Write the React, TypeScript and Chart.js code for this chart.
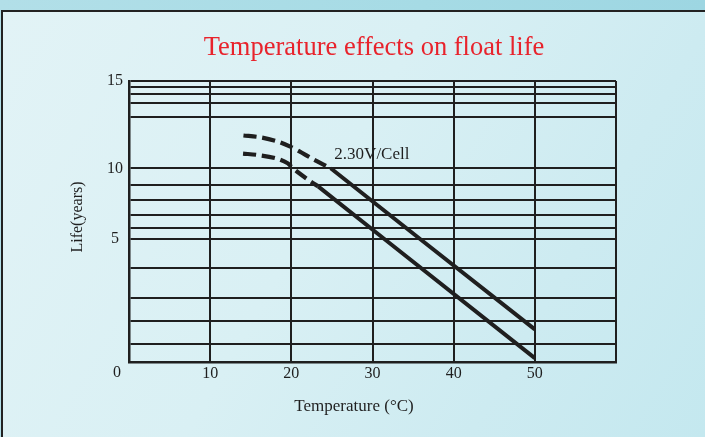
import React, { useEffect, useRef } from 'react';
import { Chart, registerables, LinearScale } from 'chart.js';

Chart.register(...registerables);

// ---- data (temperature °C, life in years) ----
const topDashedTemp = [14.1, 16.1, 18.2, 19.8, 21.0, 22.5, 23.9, 24.85];
const topDashedLife = [11.88, 11.78, 11.55, 11.26, 10.97, 10.57, 10.23, 10.0];
const topSolidTemp = [24.85, 35.9, 50.0];
const topSolidLife = [10.0, 5.0, 1.33];
const bottomDashedTemp = [14.05, 15.9, 18.2, 19.55, 20.05, 20.65, 22.25, 23.3];
const bottomDashedLife = [10.84, 10.76, 10.56, 10.29, 10.06, 9.79, 9.12, 8.73];
const bottomSolidTemp = [23.3, 31.5, 50.0];
const bottomSolidLife = [8.73, 5.0, 0.16];

const xTickValues = [0, 10, 20, 30, 40, 50, 60];
const xTickLabels = ['', '10', '20', '30', '40', '50', ''];
const yGridValues = [0, 0.73, 1.69, 2.61, 3.81, 5, 5.8, 6.69, 7.77, 8.85, 10, 12.94, 13.76, 14.26, 14.66, 15];
const yLabelValues = [5, 10, 15];

const titleText = 'Temperature effects on float life';
const xTitleText = 'Temperature (°C)';
const yTitleText = 'Life(years)';
const originLabel = '0';
const curveLabel = '2.30V/Cell';
const curveLabelTemp = 25.3;
const curveLabelLife = 10.78;

// ---- piecewise (non-uniform) y scale, as printed on the original chart ----
const Y_BREAKS = [0, 5, 10, 15];
const Y_DECIMALS = [0, 0.4367, 0.6893, 1];

function valueToDecimal(v: number): number {
  for (let i = 1; i < Y_BREAKS.length; i++) {
    if (v <= Y_BREAKS[i] || i === Y_BREAKS.length - 1) {
      const t = (v - Y_BREAKS[i - 1]) / (Y_BREAKS[i] - Y_BREAKS[i - 1]);
      return Y_DECIMALS[i - 1] + t * (Y_DECIMALS[i] - Y_DECIMALS[i - 1]);
    }
  }
  return 0;
}
function decimalToValue(d: number): number {
  for (let i = 1; i < Y_DECIMALS.length; i++) {
    if (d <= Y_DECIMALS[i] || i === Y_DECIMALS.length - 1) {
      const t = (d - Y_DECIMALS[i - 1]) / (Y_DECIMALS[i] - Y_DECIMALS[i - 1]);
      return Y_BREAKS[i - 1] + t * (Y_BREAKS[i] - Y_BREAKS[i - 1]);
    }
  }
  return 0;
}

class PiecewiseScale extends LinearScale {
  static id = 'piecewise';
  static defaults = LinearScale.defaults;
  getPixelForValue(value: number) {
    return this.getPixelForDecimal(valueToDecimal(value));
  }
  getValueForPixel(pixel: number) {
    return decimalToValue(this.getDecimalForPixel(pixel));
  }
}
Chart.register(PiecewiseScale as any);

const SERIF = '"Liberation Serif", "Times New Roman", serif';
const INK = '#1f1f1f';

function pts(xs: number[], ys: number[]) {
  return xs.map((x, i) => ({ x, y: ys[i] }));
}

const textPlugin = {
  id: 'texts',
  afterDraw(chart: any) {
    const ctx = chart.ctx;
    const xs = chart.scales.x;
    const ys = chart.scales.y;
    ctx.save();
    ctx.fillStyle = '#e8232c';
    ctx.font = `26.5px ${SERIF}`;
    ctx.textAlign = 'center';
    ctx.textBaseline = 'middle';
    ctx.fillText(titleText, 374, 48);

    ctx.fillStyle = INK;
    ctx.font = `16px ${SERIF}`;
    ctx.fillText(originLabel, 117, 373);
    ctx.font = `17px ${SERIF}`;
    ctx.fillText(xTitleText, 354, 407);

    ctx.textAlign = 'left';
    ctx.fillText(curveLabel, xs.getPixelForValue(curveLabelTemp), ys.getPixelForValue(curveLabelLife));

    ctx.font = `16px ${SERIF}`;
    ctx.translate(78, 217);
    ctx.rotate(-Math.PI / 2);
    ctx.textAlign = 'center';
    ctx.fillText(yTitleText, 0, 0);
    ctx.restore();
  },
};

export default function App() {
  const ref = useRef<HTMLCanvasElement>(null);
  useEffect(() => {
    if (!ref.current) return;
    const dashed = { borderColor: INK, borderWidth: 4.2, borderDash: [13, 6], pointRadius: 0, tension: 0.3, fill: false, borderCapStyle: 'butt' };
    const solid = { borderColor: INK, borderWidth: 4, pointRadius: 0, tension: 0, fill: false };
    const chart = new Chart(ref.current, {
      type: 'line',
      data: {
        datasets: [
          { label: 'top dashed', data: pts(topDashedTemp, topDashedLife), ...dashed },
          { label: 'top solid', data: pts(topSolidTemp, topSolidLife), ...solid },
          { label: 'bottom dashed', data: pts(bottomDashedTemp, bottomDashedLife), ...dashed },
          { label: 'bottom solid', data: pts(bottomSolidTemp, bottomSolidLife), ...solid },
        ] as any,
      },
      options: {
        animation: false,
        responsive: false,
        devicePixelRatio: 1,
        layout: { padding: { top: 81, right: 89, left: 0, bottom: 0 } },
        plugins: { legend: { display: false }, tooltip: { enabled: false }, title: { display: false } },
        scales: {
          x: {
            type: 'linear',
            min: 0,
            max: 60,
            afterBuildTicks: (s: any) => { s.ticks = xTickValues.map((v) => ({ value: v })); },
            afterFit: (s: any) => { s.height = 75; },
            ticks: {
              padding: 2,
              color: INK,
              font: { family: SERIF, size: 16 },
              maxRotation: 0,
              autoSkip: false,
              callback: (_v: any, i: number) => xTickLabels[i],
            },
            grid: { color: INK, lineWidth: 2, drawTicks: false },
            border: { color: INK, width: 2.5 },
          },
          y: {
            type: 'piecewise' as any,
            min: 0,
            max: 15,
            afterBuildTicks: (s: any) => { s.ticks = yGridValues.map((v) => ({ value: v })); },
            afterFit: (s: any) => { s.width = 129; },
            ticks: {
              padding: 6,
              crossAlign: 'center',
              color: INK,
              font: { family: SERIF, size: 16 },
              autoSkip: false,
              callback: (v: any) => (yLabelValues.includes(v) ? String(v) : ''),
            },
            grid: { color: INK, lineWidth: 2, drawTicks: false },
            border: { color: INK, width: 2.5 },
          },
        },
      } as any,
      plugins: [textPlugin],
    });
    return () => chart.destroy();
  }, []);

  return (
    <div style={{ position: 'absolute', left: 0, top: 0, width: 705, height: 437, overflow: 'hidden', background: 'linear-gradient(90deg, #b2dfe8 0%, #a6dbe5 60%, #9dd6e2 100%)' }}>
      <div
        style={{
          position: 'absolute',
          left: 1,
          top: 10,
          width: 704,
          height: 427,
          boxSizing: 'border-box',
          borderLeft: '2.5px solid #222',
          borderTop: '2.5px solid #222',
          background: 'linear-gradient(120deg, #e2f3f6 0%, #d9f0f4 45%, #cdebf1 75%, #c4e8ef 100%)',
        }}
      />
      <canvas ref={ref} width={705} height={437} style={{ position: 'absolute', left: 0, top: 0, width: 705, height: 437 }} />
    </div>
  );
}
